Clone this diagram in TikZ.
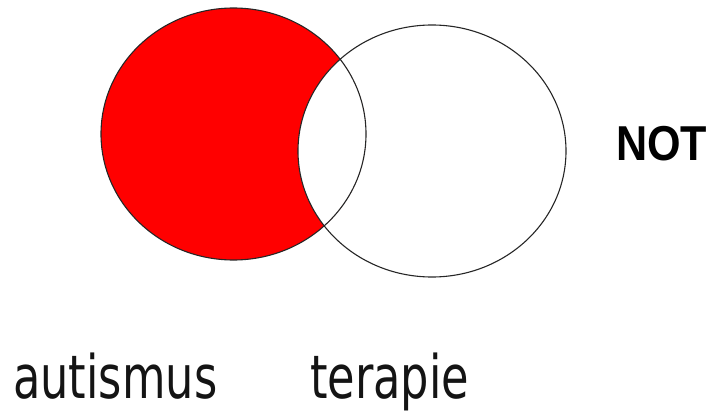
\documentclass[tikz,border=0pt]{standalone}
\usepackage{fontspec}
\newfontfamily\labelfont[FakeStretch=0.745]{DejaVu Sans}
\newfontfamily\notfont[FakeStretch=0.88]{Liberation Sans}
\tikzset{
  setline/.style={draw=black!85, line width=1.1pt},
  lbl/.style={anchor=base west, inner sep=0pt, text=black!92, font=\labelfont\fontsize{60}{60}\selectfont},
  notlbl/.style={anchor=base west, inner sep=0pt, font=\notfont\bfseries\fontsize{49}{49}\selectfont}
}
\begin{document}
\begin{tikzpicture}[x=1pt,y=1pt]
\useasboundingbox (0,0) rectangle (717,413);
\coordinate (cA) at (233.5,279);
\coordinate (cB) at (432,262);
\fill[red] (cA) ellipse [x radius=132.5, y radius=126];
\begin{scope}
  \clip (cA) ellipse [x radius=132.5, y radius=126];
  \fill[white] (cB) ellipse [x radius=134, y radius=126];
\end{scope}
\draw[setline] (cA) ellipse [x radius=132.5, y radius=126];
\draw[setline] (cB) ellipse [x radius=134, y radius=126];
\node[notlbl] (not) at (616,253) {NOT};
\node[lbl] (aut) at (13,14.5) {autismus};
\node[lbl] (ter) at (310,14.5) {terapie};
\end{tikzpicture}
\end{document}
